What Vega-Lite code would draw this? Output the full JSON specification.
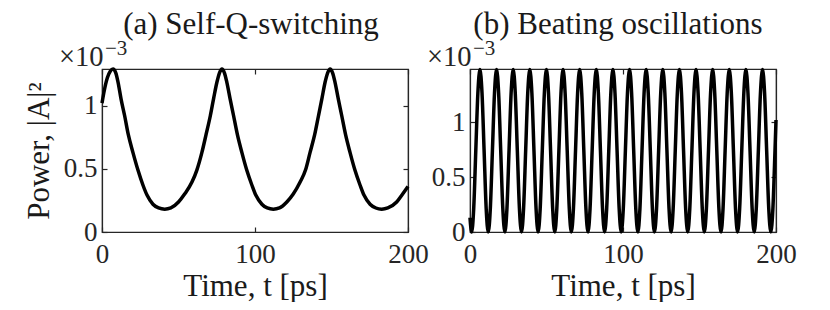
{
  "$schema": "https://vega.github.io/schema/vega-lite/v6.json",
  "padding": {"left": 22, "top": 8, "right": 0, "bottom": 0},
  "background": "white",
  "config": {
    "font": "Liberation Serif",
    "view": {"stroke": "#262626", "strokeWidth": 1.2},
    "axis": {
      "grid": false,
      "domain": true,
      "domainColor": "#262626",
      "domainWidth": 1.2,
      "tickSize": -5,
      "tickColor": "#262626",
      "tickWidth": 1.2,
      "labelFlush": false,
      "labelFont": "Liberation Serif",
      "labelFontSize": 27,
      "labelColor": "#262626",
      "titleFont": "Liberation Serif",
      "titleFontSize": 31,
      "titleFontWeight": "normal",
      "titleColor": "#1a1a1a"
    },
    "axisX": {"labelPadding": 14},
    "axisY": {"labelPadding": 10},
    "title": {"font": "Liberation Serif", "fontSize": 31, "fontWeight": "normal", "color": "#1a1a1a", "anchor": "middle", "frame": "group"}
  },
  "bounds": "flush",
  "spacing": 62,
  "hconcat": [
    {
      "title": {"text": "(a) Self-Q-switching", "dx": -4, "offset": -3, "frame": "group", "anchor": "middle"},
      "width": 306,
      "height": 163,
      "resolve": {"axis": {"x": "independent", "y": "independent"}},
      "layer": [
        {
          "data": {"values": [
            {"t": 0, "p": 0.00102}, {"t": 1.5, "p": 0.00112}, {"t": 3.5, "p": 0.00122}, {"t": 5.5, "p": 0.001275},
            {"t": 7.2, "p": 0.00129}, {"t": 9, "p": 0.00126}, {"t": 10.5, "p": 0.001185}, {"t": 12.5, "p": 0.00105},
            {"t": 14.8, "p": 0.00092}, {"t": 17.2, "p": 0.00077}, {"t": 20.2, "p": 0.00063}, {"t": 23.5, "p": 0.00049},
            {"t": 26.8, "p": 0.00037}, {"t": 29.5, "p": 0.00029}, {"t": 33.3, "p": 0.00022}, {"t": 37, "p": 0.00019},
            {"t": 41, "p": 0.00018}, {"t": 45, "p": 0.00019}, {"t": 50, "p": 0.000237}, {"t": 54, "p": 0.0003},
            {"t": 58.8, "p": 0.000395}, {"t": 62, "p": 0.00049}, {"t": 65.3, "p": 0.00063}, {"t": 68, "p": 0.00077},
            {"t": 70.8, "p": 0.00092}, {"t": 73, "p": 0.00106}, {"t": 75.1, "p": 0.001185}, {"t": 76.8, "p": 0.00126},
            {"t": 78.4, "p": 0.00129}, {"t": 80, "p": 0.00126}, {"t": 81.6, "p": 0.001185}, {"t": 83.8, "p": 0.00105},
            {"t": 86, "p": 0.00092}, {"t": 88.5, "p": 0.00077}, {"t": 91.4, "p": 0.00063}, {"t": 94.6, "p": 0.00049},
            {"t": 98, "p": 0.00037}, {"t": 100.6, "p": 0.00029}, {"t": 104.5, "p": 0.00022}, {"t": 108, "p": 0.00019},
            {"t": 112, "p": 0.00018}, {"t": 116, "p": 0.00019}, {"t": 120.8, "p": 0.000237}, {"t": 125, "p": 0.0003},
            {"t": 129.5, "p": 0.000395}, {"t": 133, "p": 0.00049}, {"t": 136, "p": 0.00063}, {"t": 139, "p": 0.00077},
            {"t": 141.5, "p": 0.00092}, {"t": 143.8, "p": 0.00106}, {"t": 145.8, "p": 0.001185}, {"t": 147.5, "p": 0.00126},
            {"t": 149.1, "p": 0.00129}, {"t": 150.7, "p": 0.00126}, {"t": 152.3, "p": 0.001185}, {"t": 154.5, "p": 0.00105},
            {"t": 156.7, "p": 0.00092}, {"t": 159.2, "p": 0.00077}, {"t": 162.1, "p": 0.00063}, {"t": 165.3, "p": 0.00049},
            {"t": 168.7, "p": 0.00037}, {"t": 171.3, "p": 0.00029}, {"t": 175.2, "p": 0.00022}, {"t": 179, "p": 0.00019},
            {"t": 182.8, "p": 0.00018}, {"t": 186.8, "p": 0.00019}, {"t": 192.6, "p": 0.000237}, {"t": 196.5, "p": 0.0003},
            {"t": 200, "p": 0.00036}
          ]},
          "layer": [
            {
              "mark": {"type": "line", "color": "black", "strokeWidth": 3.5, "interpolate": "monotone"},
              "encoding": {
                "x": {"field": "t", "type": "quantitative", "scale": {"domain": [0, 200], "nice": false},
                      "axis": {"orient": "bottom", "values": [0, 100, 200], "title": "Time, t [ps]", "titlePadding": 4}},
                "y": {"field": "p", "type": "quantitative", "scale": {"domain": [0, 0.00129], "nice": false},
                      "axis": {"orient": "left", "values": [0, 0.0005, 0.001], "labelExpr": "format(datum.value*1000, '~g')", "title": "Power, |A|²", "titlePadding": 8}}
              }
            },
            {
              "mark": {"type": "line", "opacity": 0},
              "encoding": {
                "x": {"field": "t", "type": "quantitative", "scale": {"domain": [0, 200], "nice": false},
                      "axis": {"orient": "top", "values": [0, 100, 200], "labels": false, "title": null}},
                "y": {"field": "p", "type": "quantitative", "scale": {"domain": [0, 0.00129], "nice": false},
                      "axis": {"orient": "right", "values": [0, 0.0005, 0.001], "labels": false, "title": null}}
              }
            }
          ]
        },
        {
          "data": {"values": [{"label": "×10"}]},
          "mark": {"type": "text", "align": "right", "baseline": "alphabetic", "dx": 1.5, "dy": -3, "fontSize": 28.5, "color": "#262626"},
          "encoding": {
            "text": {"field": "label"},
            "x": {"datum": 0, "type": "quantitative", "axis": null},
            "y": {"datum": 0.00129, "type": "quantitative", "axis": null}
          }
        },
        {
          "data": {"values": [{"label": "−3"}]},
          "mark": {"type": "text", "align": "left", "baseline": "alphabetic", "dx": 3, "dy": -14, "fontSize": 21, "color": "#262626"},
          "encoding": {
            "text": {"field": "label"},
            "x": {"datum": 0, "type": "quantitative", "axis": null},
            "y": {"datum": 0.00129, "type": "quantitative", "axis": null}
          }
        }
      ]
    },
    {
      "title": {"text": "(b) Beating oscillations", "dx": -5, "offset": -3, "frame": "group", "anchor": "middle"},
      "width": 306,
      "height": 163,
      "resolve": {"axis": {"x": "independent", "y": "independent"}},
      "layer": [
        {
          "data": {"values": [
            {"t": 0, "p": 0.00013},
            {"t": 1.07, "p": 0}, {"t": 2.43, "p": 0.000216}, {"t": 3.78, "p": 0.00074}, {"t": 5.14, "p": 0.001264},
            {"t": 6.5, "p": 0.00148}, {"t": 7.86, "p": 0.001264}, {"t": 9.22, "p": 0.00074}, {"t": 10.57, "p": 0.000216},
            {"t": 11.93, "p": 0}, {"t": 13.29, "p": 0.000216}, {"t": 14.65, "p": 0.00074}, {"t": 16.01, "p": 0.001264},
            {"t": 17.36, "p": 0.00148}, {"t": 18.72, "p": 0.001264}, {"t": 20.08, "p": 0.00074}, {"t": 21.44, "p": 0.000216},
            {"t": 22.8, "p": 0}, {"t": 24.15, "p": 0.000216}, {"t": 25.51, "p": 0.00074}, {"t": 26.87, "p": 0.001264},
            {"t": 28.23, "p": 0.00148}, {"t": 29.59, "p": 0.001264}, {"t": 30.94, "p": 0.00074}, {"t": 32.3, "p": 0.000216},
            {"t": 33.66, "p": 0}, {"t": 35.02, "p": 0.000216}, {"t": 36.38, "p": 0.00074}, {"t": 37.73, "p": 0.001264},
            {"t": 39.09, "p": 0.00148}, {"t": 40.45, "p": 0.001264}, {"t": 41.81, "p": 0.00074}, {"t": 43.17, "p": 0.000216},
            {"t": 44.52, "p": 0}, {"t": 45.88, "p": 0.000216}, {"t": 47.24, "p": 0.00074}, {"t": 48.6, "p": 0.001264},
            {"t": 49.96, "p": 0.00148}, {"t": 51.31, "p": 0.001264}, {"t": 52.67, "p": 0.00074}, {"t": 54.03, "p": 0.000216},
            {"t": 55.39, "p": 0}, {"t": 56.75, "p": 0.000216}, {"t": 58.1, "p": 0.00074}, {"t": 59.46, "p": 0.001264},
            {"t": 60.82, "p": 0.00148}, {"t": 62.18, "p": 0.001264}, {"t": 63.54, "p": 0.00074}, {"t": 64.89, "p": 0.000216},
            {"t": 66.25, "p": 0}, {"t": 67.61, "p": 0.000216}, {"t": 68.97, "p": 0.00074}, {"t": 70.33, "p": 0.001264},
            {"t": 71.68, "p": 0.00148}, {"t": 73.04, "p": 0.001264}, {"t": 74.4, "p": 0.00074}, {"t": 75.76, "p": 0.000216},
            {"t": 77.12, "p": 0}, {"t": 78.47, "p": 0.000216}, {"t": 79.83, "p": 0.00074}, {"t": 81.19, "p": 0.001264},
            {"t": 82.55, "p": 0.00148}, {"t": 83.91, "p": 0.001264}, {"t": 85.26, "p": 0.00074}, {"t": 86.62, "p": 0.000216},
            {"t": 87.98, "p": 0}, {"t": 89.34, "p": 0.000216}, {"t": 90.7, "p": 0.00074}, {"t": 92.05, "p": 0.001264},
            {"t": 93.41, "p": 0.00148}, {"t": 94.77, "p": 0.001264}, {"t": 96.13, "p": 0.00074}, {"t": 97.49, "p": 0.000216},
            {"t": 98.84, "p": 0}, {"t": 100.2, "p": 0.000216}, {"t": 101.56, "p": 0.00074}, {"t": 102.92, "p": 0.001264},
            {"t": 104.28, "p": 0.00148}, {"t": 105.63, "p": 0.001264}, {"t": 106.99, "p": 0.00074}, {"t": 108.35, "p": 0.000216},
            {"t": 109.71, "p": 0}, {"t": 111.07, "p": 0.000216}, {"t": 112.42, "p": 0.00074}, {"t": 113.78, "p": 0.001264},
            {"t": 115.14, "p": 0.00148}, {"t": 116.5, "p": 0.001264}, {"t": 117.86, "p": 0.00074}, {"t": 119.21, "p": 0.000216},
            {"t": 120.57, "p": 0}, {"t": 121.93, "p": 0.000216}, {"t": 123.29, "p": 0.00074}, {"t": 124.65, "p": 0.001264},
            {"t": 126.0, "p": 0.00148}, {"t": 127.36, "p": 0.001264}, {"t": 128.72, "p": 0.00074}, {"t": 130.08, "p": 0.000216},
            {"t": 131.44, "p": 0}, {"t": 132.79, "p": 0.000216}, {"t": 134.15, "p": 0.00074}, {"t": 135.51, "p": 0.001264},
            {"t": 136.87, "p": 0.00148}, {"t": 138.23, "p": 0.001264}, {"t": 139.58, "p": 0.00074}, {"t": 140.94, "p": 0.000216},
            {"t": 142.3, "p": 0}, {"t": 143.66, "p": 0.000216}, {"t": 145.02, "p": 0.00074}, {"t": 146.37, "p": 0.001264},
            {"t": 147.73, "p": 0.00148}, {"t": 149.09, "p": 0.001264}, {"t": 150.45, "p": 0.00074}, {"t": 151.81, "p": 0.000216},
            {"t": 153.16, "p": 0}, {"t": 154.52, "p": 0.000216}, {"t": 155.88, "p": 0.00074}, {"t": 157.24, "p": 0.001264},
            {"t": 158.6, "p": 0.00148}, {"t": 159.95, "p": 0.001264}, {"t": 161.31, "p": 0.00074}, {"t": 162.67, "p": 0.000216},
            {"t": 164.03, "p": 0}, {"t": 165.39, "p": 0.000216}, {"t": 166.74, "p": 0.00074}, {"t": 168.1, "p": 0.001264},
            {"t": 169.46, "p": 0.00148}, {"t": 170.82, "p": 0.001264}, {"t": 172.18, "p": 0.00074}, {"t": 173.53, "p": 0.000216},
            {"t": 174.89, "p": 0}, {"t": 176.25, "p": 0.000216}, {"t": 177.61, "p": 0.00074}, {"t": 178.97, "p": 0.001264},
            {"t": 180.32, "p": 0.00148}, {"t": 181.68, "p": 0.001264}, {"t": 183.04, "p": 0.00074}, {"t": 184.4, "p": 0.000216},
            {"t": 185.76, "p": 0}, {"t": 187.11, "p": 0.000216}, {"t": 188.47, "p": 0.00074}, {"t": 189.83, "p": 0.001264},
            {"t": 191.19, "p": 0.00148}, {"t": 192.55, "p": 0.001264}, {"t": 193.9, "p": 0.00074}, {"t": 195.26, "p": 0.000216},
            {"t": 196.62, "p": 0}, {"t": 197.98, "p": 0.000216}, {"t": 199.34, "p": 0.00074}, {"t": 200, "p": 0.00102}
          ]},
          "layer": [
            {
              "mark": {"type": "line", "color": "black", "strokeWidth": 3.5, "interpolate": "monotone"},
              "encoding": {
                "x": {"field": "t", "type": "quantitative", "scale": {"domain": [0, 200], "nice": false},
                      "axis": {"orient": "bottom", "values": [0, 100, 200], "title": "Time, t [ps]", "titlePadding": 4}},
                "y": {"field": "p", "type": "quantitative", "scale": {"domain": [0, 0.001485], "nice": false},
                      "axis": {"orient": "left", "values": [0, 0.0005, 0.001], "labelExpr": "format(datum.value*1000, '~g')", "title": null}}
              }
            },
            {
              "mark": {"type": "line", "opacity": 0},
              "encoding": {
                "x": {"field": "t", "type": "quantitative", "scale": {"domain": [0, 200], "nice": false},
                      "axis": {"orient": "top", "values": [0, 100, 200], "labels": false, "title": null}},
                "y": {"field": "p", "type": "quantitative", "scale": {"domain": [0, 0.001485], "nice": false},
                      "axis": {"orient": "right", "values": [0, 0.0005, 0.001], "labels": false, "title": null}}
              }
            }
          ]
        },
        {
          "data": {"values": [{"label": "×10"}]},
          "mark": {"type": "text", "align": "right", "baseline": "alphabetic", "dx": 1.5, "dy": -3, "fontSize": 28.5, "color": "#262626"},
          "encoding": {
            "text": {"field": "label"},
            "x": {"datum": 0, "type": "quantitative", "axis": null},
            "y": {"datum": 0.001485, "type": "quantitative", "axis": null}
          }
        },
        {
          "data": {"values": [{"label": "−3"}]},
          "mark": {"type": "text", "align": "left", "baseline": "alphabetic", "dx": 3, "dy": -14, "fontSize": 21, "color": "#262626"},
          "encoding": {
            "text": {"field": "label"},
            "x": {"datum": 0, "type": "quantitative", "axis": null},
            "y": {"datum": 0.001485, "type": "quantitative", "axis": null}
          }
        }
      ]
    }
  ]
}
